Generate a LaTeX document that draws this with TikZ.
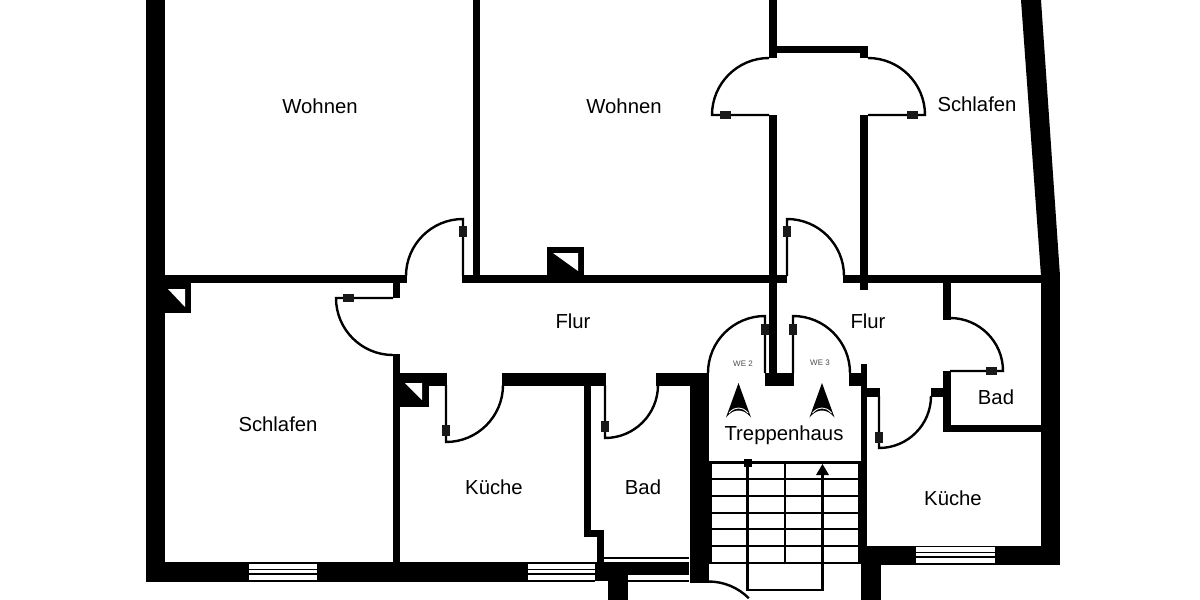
\documentclass[tikz,border=0pt]{standalone}
\usepackage{fontspec}
\setmainfont{Liberation Sans}
\usetikzlibrary{calc}
\tikzset{
	room/.style={font=\fontsize{20.3}{20.3}\selectfont,inner sep=0pt},
	small/.style={font=\fontsize{8}{8}\selectfont,inner sep=0pt,text=black!70},
	door/.style={line width=2.4pt,line join=miter},
	hinge/.style={fill=black!90,inner sep=0pt,minimum width=11pt,minimum height=7.5pt},
	thin line/.style={line width=1.6pt},
	stair/.style={line width=2.4pt},
}
\begin{document}
\begin{tikzpicture}[x=1pt,y=-1pt]
\useasboundingbox (0,0) rectangle (1200,600);
% walls
\foreach \xa/\ya/\xb/\yb in {146/0/165/582, 146/562/595/582, 595/562/608/581, 604/562/689/575, 608/575/628/600,
	597/530/604/562, 584/530/604/537, 584/385/591/537, 689.5/373/709/583,
	165/275/407/282.5, 462/275/787/282.5, 843/275/1041/282.5,
	393/282/400/298, 393/354/400/562, 400/373/447/386, 502/373/606/386, 656/373/708/386,
	473/0/480/276, 769/0/777/58, 769/115/777/373, 765/373/794/386,
	777/46/868/53, 860/46/868/58, 860/115/868/290,
	849/373/861/386, 861/364/867/546, 867/388/880/397, 931/388/943/397,
	943/371/951/432, 943/282/951/320, 943/425/1041/432,
	861/546/1041/565, 1041/275/1060/565, 861/546/881/600} {
	\fill (\xa,\yb) rectangle (\xb,\ya);
}
\fill (1021,0) -- (1041,0) -- (1060,276) -- (1041,276) -- cycle;
% shafts
\fill (165,282) rectangle (191,313);
\fill (400,373) rectangle (429,407);
\fill (547,247) rectangle (584,276);
\foreach \xa/\ya/\xb/\yb in {168/289/185/307, 405/383/422/400, 553/253/578/271} {
	\fill[white] (\xa,\ya) -- (\xb,\ya) -- (\xb,\yb) -- cycle;
}
% windows
\foreach \xa/\ya/\xb/\yb in {249/564/317/580, 528/564/595/580, 916/547/995/563} {
	\fill[white] (\xa,\ya) rectangle (\xb,\yb);
	\draw[thin line] (\xa,\ya+5.5) -- (\xb,\ya+5.5);
	\draw[thin line] (\xa,\ya+10) -- (\xb,\ya+10);
}
\fill[white] (604,559) rectangle (689,561.5);
\fill (604,556.5) rectangle (689,559);
\fill[white] (628,575.5) rectangle (689,580);
\draw[thin line] (628,580.8) -- (689,580.8);
% doors: centre, leaf angle, other angle, radius, hinge distance
\foreach \cx/\cy/\sa/\ea/\r/\h [count=\i] in {463/276/270/180/57/45, 393/298/180/90/57/44.5, 446/385/90/0/57/45,
	605/385/90/0/53/41, 765/373/270/180/57/43.5, 793/373/270/360/57/43.5,
	769/115/180/270/57/43.5, 868/115/0/-90/57/44, 787/276/270/360/57/44.5,
	879/396/90/0/52/41, 950/371/0/-90/53/41} {
	\draw[door] (\cx,\cy) -- ++(\sa:\r) arc[start angle=\sa,end angle=\ea,radius=\r];
	\path (\cx,\cy) ++(\sa:\h) node[hinge,rotate=\sa] (h\i) {};
}
\draw[door] (708.5,581.5) arc[start angle=270,end angle=315,radius=57];
% stairs
\foreach \y in {462.5,479,496,512.7,529,546,562.7} {
	\draw[stair] (709,\y) -- (861,\y);
}
\draw[stair] (710.5,462.5) -- (710.5,562.7);
\draw[stair] (859.5,462.5) -- (859.5,562.7);
\draw[stair] (785,462.5) -- (785,562.7);
\draw[stair] (747.5,462.5) -- (747.5,590) -- (822.5,590) -- (822.5,470);
\fill (822.5,464) -- (829,475) -- (816,475) -- cycle;
\node[fill=black,inner sep=0pt,minimum size=8pt] (top) at (747.5,462.7) {};
% entrance marks
\foreach \x in {738.5,822} {
	\fill (\x,383) -- (\x+12.5,417.5) .. controls (\x+8,412) and (\x+4,410.5) .. (\x,410.5) .. controls (\x-4,410.5) and (\x-8,412) .. (\x-12.5,417.5) -- cycle;
	\draw[white,line width=0.9pt] (\x-9.5,413) .. controls (\x-6,409) and (\x-3,408) .. (\x,408) .. controls (\x+3,408) and (\x+6,409) .. (\x+9.5,413);
}
% labels
\node[room] (wohnena) at (320,106) {Wohnen};
\node[room] (wohnenb) at (624,106) {Wohnen};
\node[room] (schlafena) at (977,104) {Schlafen};
\node[room] (schlafenb) at (278,424) {Schlafen};
\node[room] (flura) at (573,321) {Flur};
\node[room] (flurb) at (868,321) {Flur};
\node[room] (kuechea) at (494,487) {Küche};
\node[room] (kuecheb) at (953,498) {Küche};
\node[room] (bada) at (643,487) {Bad};
\node[room] (badb) at (996,397) {Bad};
\node[room] (treppe) at (784,435) {Treppenhaus};
\node[small] (wea) at (743,364) {WE 2};
\node[small] (web) at (820,363) {WE 3};
\end{tikzpicture}
\end{document}
